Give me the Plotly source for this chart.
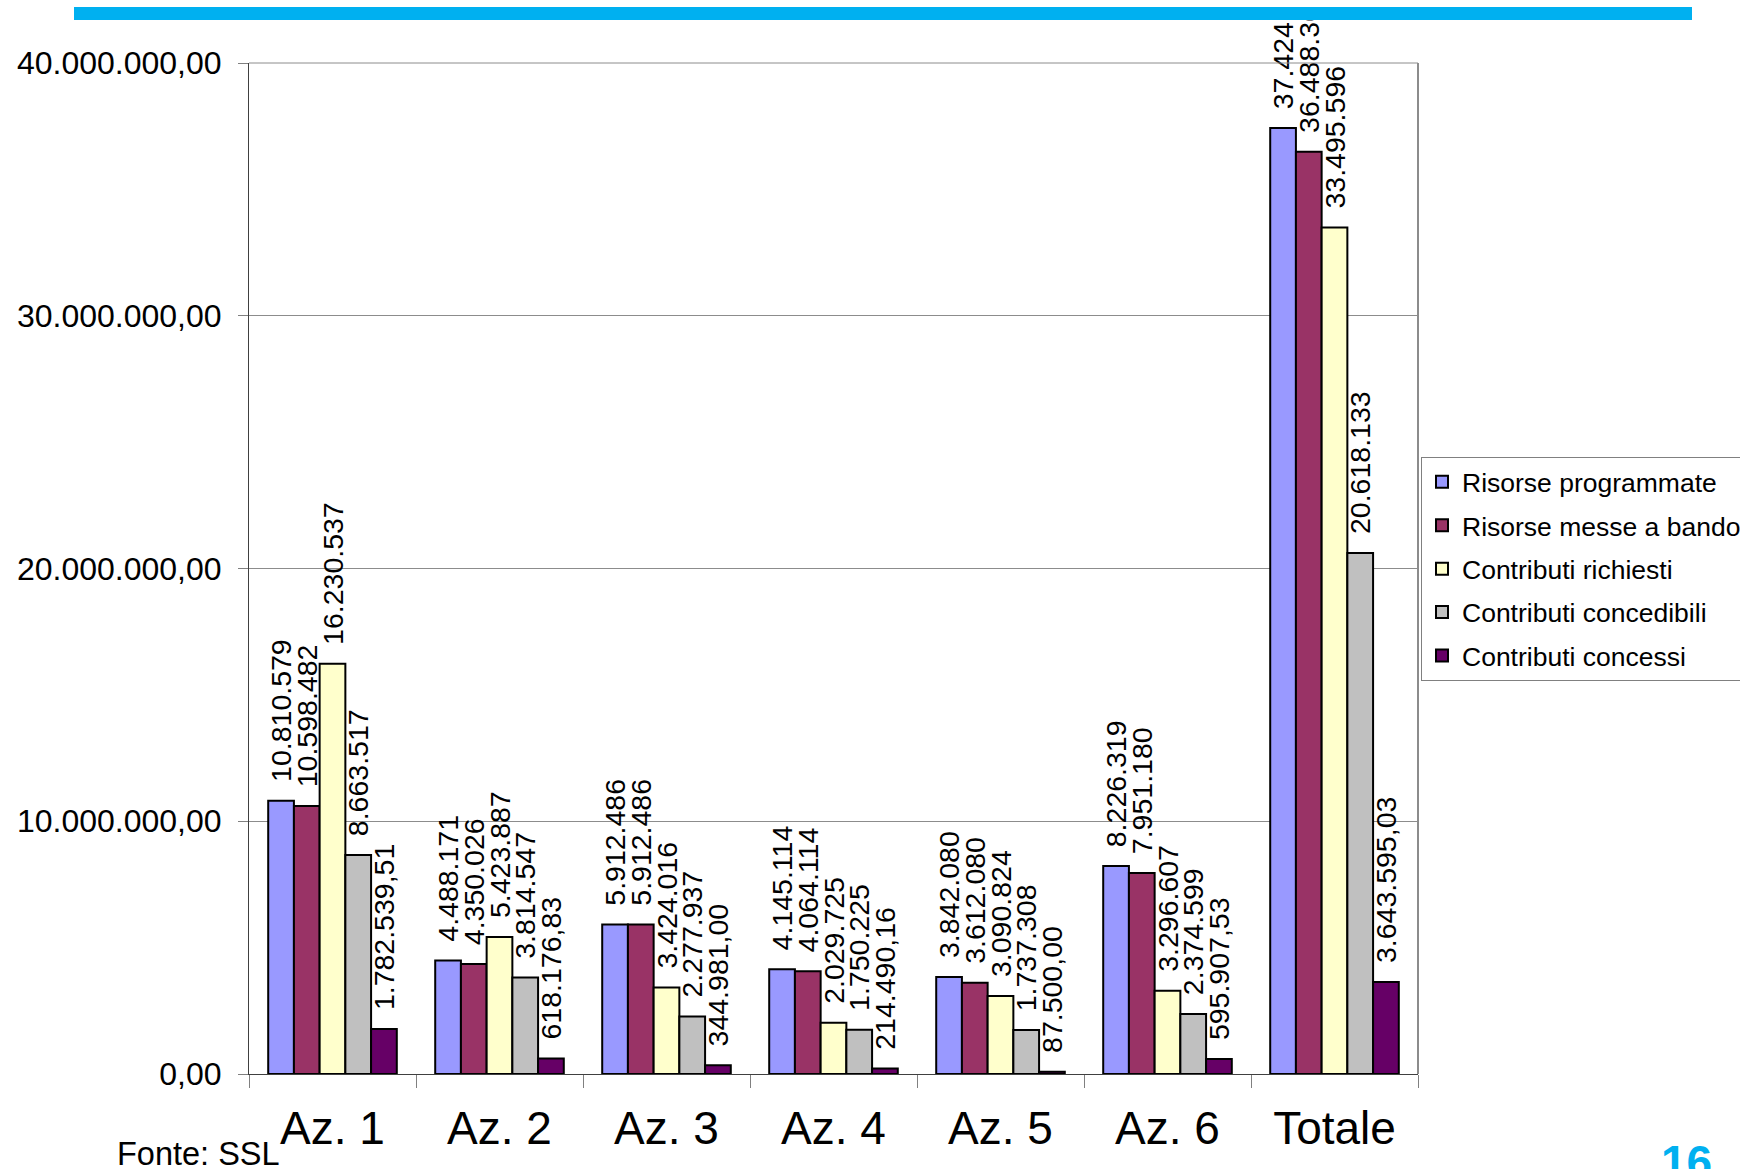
import plotly.graph_objects as go

categories = ["Az. 1", "Az. 2", "Az. 3", "Az. 4", "Az. 5", "Az. 6", "Totale"]

risorse_programmate = [10810579, 4488171, 5912486, 4145114, 3842080, 8226319, 37424749]
risorse_bando = [10598482, 4350026, 5912486, 4064114, 3612080, 7951180, 36488368]
contributi_richiesti = [16230537, 5423887, 3424016, 2029725, 3090824, 3296607, 33495596]
contributi_concedibili = [8663517, 3814547, 2277937, 1750225, 1737308, 2374599, 20618133]
contributi_concessi = [1782539.51, 618176.83, 344981.00, 214490.16, 87500.00, 595907.53, 3643595.03]

series_names = ["Risorse programmate", "Risorse messe a bando", "Contributi richiesti",
                "Contributi concedibili", "Contributi concessi"]
series_values = [risorse_programmate, risorse_bando, contributi_richiesti,
                 contributi_concedibili, contributi_concessi]
series_decimals = [0, 0, 0, 0, 2]
series_colors = ["#9999FF", "#993366", "#FFFFCC", "#C0C0C0", "#660066"]

y_tickvals = [0, 10000000, 20000000, 30000000, 40000000]
y_ticktext = ["0,00", "10.000.000,00", "20.000.000,00", "30.000.000,00", "40.000.000,00"]

FONT = "Liberation Sans, Arial, sans-serif"


def it_format(v, dec):
    s = f"{v:,.{dec}f}"
    s = s.replace(",", "X").replace(".", ",").replace("X", ".")
    return s


fig = go.Figure()
for i, (name, vals, dec, col) in enumerate(zip(series_names, series_values, series_decimals, series_colors)):
    fig.add_trace(go.Bar(
        x=categories, y=vals, name=name,
        marker=dict(color=col, line=dict(color="black", width=2)),
        text=["\u00a0\u00a0" + it_format(v, dec) for v in vals],
        textposition="outside", textangle=-90,
        textfont=dict(family=FONT, size=28.5, color="black"),
        constraintext="none", cliponaxis=False,
        legendgroup=f"g{i}",
    ))

L, R, T, B = 249, 1418, 63, 1074
W, H = 1740, 1169
pw, ph = R - L, B - T


def px(x):
    return (x - L) / pw


def py(y):
    return (B - y) / ph


fig.update_layout(
    width=W, height=H,
    margin=dict(l=L, r=W - R, t=T, b=H - B, autoexpand=False),
    paper_bgcolor="white", plot_bgcolor="white",
    barmode="group", bargap=0.23, bargroupgap=0,
    font=dict(family=FONT, color="black"),
    showlegend=True,
    legend=dict(
        x=px(1421), y=py(457), xanchor="left", yanchor="top",
        font=dict(family=FONT, size=26.5, color="black"),
        bgcolor="white", bordercolor="#808080", borderwidth=1,
        traceorder="grouped", tracegroupgap=6,
    ),
    xaxis=dict(
        type="category", tickson="boundaries", ticks="outside", ticklen=13,
        tickcolor="#808080", tickwidth=1,
        showline=True, linecolor="#404040", linewidth=1,
        showgrid=False,
        tickfont=dict(family=FONT, size=46, color="black"),
        ticklabelstandoff=14,
    ),
    yaxis=dict(
        range=[0, 40000000], tickvals=y_tickvals, ticktext=y_ticktext,
        ticks="outside", ticklen=10, tickcolor="#808080", tickwidth=1,
        showline=True, linecolor="#404040", linewidth=1,
        showgrid=True, gridcolor="#8c8c8c", gridwidth=1,
        zeroline=False,
        tickfont=dict(family=FONT, size=32, color="black"),
        ticklabelstandoff=10,
    ),
    shapes=[
        dict(type="line", xref="paper", yref="paper", x0=0, x1=1, y0=1, y1=1,
             line=dict(color="#8c8c8c", width=1), layer="above"),
        dict(type="line", xref="paper", yref="paper", x0=1, x1=1, y0=0, y1=1,
             line=dict(color="#8c8c8c", width=2), layer="above"),
        dict(type="rect", xref="paper", yref="paper", x0=px(0), x1=px(W), y0=py(20), y1=py(0),
             fillcolor="white", line=dict(width=0), layer="above"),
        dict(type="rect", xref="paper", yref="paper", x0=px(74), x1=px(1692), y0=py(20), y1=py(7),
             fillcolor="#00B0F0", line=dict(width=0), layer="above"),
    ],
    annotations=[
        dict(text="Fonte: SSL", xref="paper", yref="paper", x=px(115), y=py(1154),
             xanchor="left", yanchor="middle", showarrow=False,
             font=dict(family=FONT, size=32.5, color="black")),
        dict(text="<b>16</b>", xref="paper", yref="paper", x=px(1659), y=py(1162),
             xanchor="left", yanchor="middle", showarrow=False,
             font=dict(family=FONT, size=46, color="#00B0F0")),
    ],
)

fig.write_html("out.html",
               config={"displayModeBar": False},
               post_script="document.body.style.margin='0px';document.body.style.overflow='hidden';")
